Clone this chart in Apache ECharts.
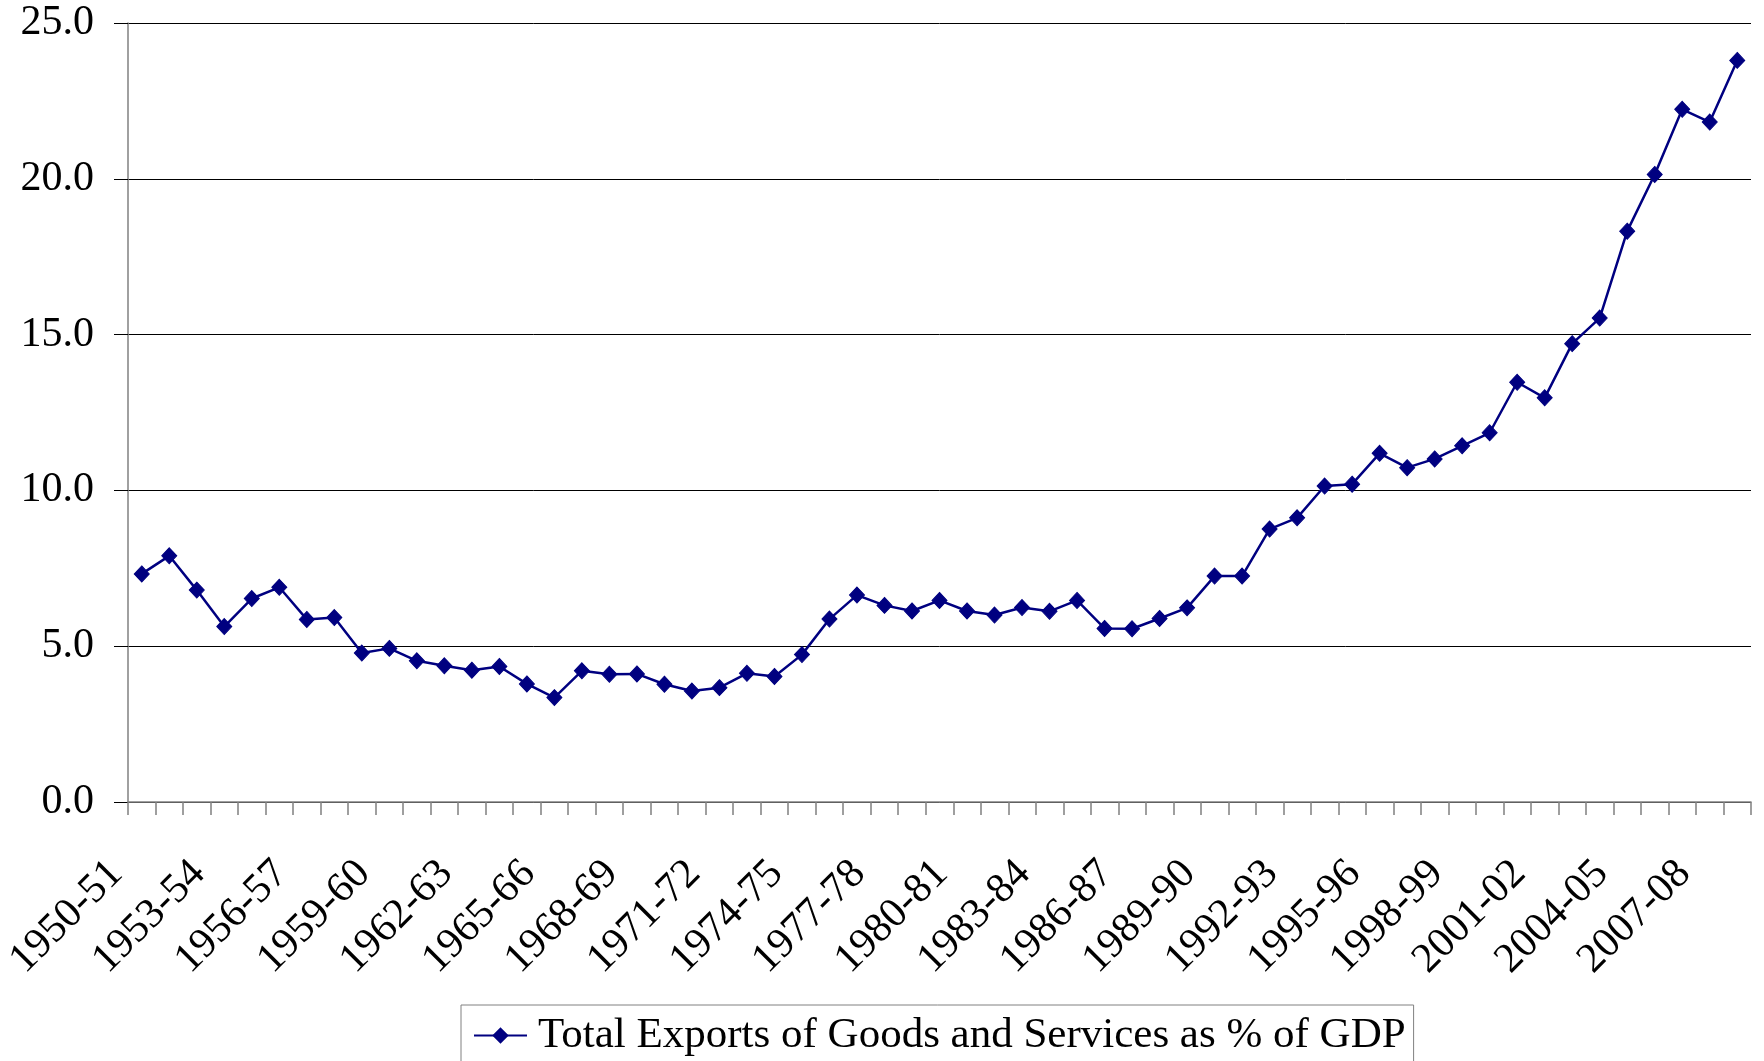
<!DOCTYPE html>
<html>
<head>
<meta charset="utf-8">
<script src="https://cdn.jsdelivr.net/npm/echarts@6/dist/echarts.min.js"></script>
<style>
html,body{margin:0;padding:0;background:#fff;}
#chart{width:1764px;height:1061px;}
</style>
</head>
<body>
<div id="chart"></div>
<script>
var categories = ["1950-51","1951-52","1952-53","1953-54","1954-55","1955-56","1956-57","1957-58","1958-59","1959-60",
"1960-61","1961-62","1962-63","1963-64","1964-65","1965-66","1966-67","1967-68","1968-69","1969-70",
"1970-71","1971-72","1972-73","1973-74","1974-75","1975-76","1976-77","1977-78","1978-79","1979-80",
"1980-81","1981-82","1982-83","1983-84","1984-85","1985-86","1986-87","1987-88","1988-89","1989-90",
"1990-91","1991-92","1992-93","1993-94","1994-95","1995-96","1996-97","1997-98","1998-99","1999-00",
"2000-01","2001-02","2002-03","2003-04","2004-05","2005-06","2006-07","2007-08","2008-09"];
var exportsPctGDP = [7.32,7.90,6.80,5.63,6.53,6.89,5.86,5.92,4.78,4.93,
4.53,4.37,4.23,4.35,3.79,3.35,4.21,4.10,4.11,3.78,
3.56,3.67,4.13,4.03,4.73,5.87,6.64,6.31,6.13,6.47,
6.13,6.00,6.24,6.12,6.47,5.57,5.56,5.89,6.23,7.25,
7.25,8.76,9.12,10.14,10.20,11.19,10.73,11.01,11.43,11.85,
13.47,12.97,14.71,15.53,18.32,20.14,22.23,21.82,23.80];
var seriesName = "Total Exports of Goods and Services as % of GDP";
var yTicks = {min: 0, max: 25, interval: 5};

var FONT = "'Liberation Serif','Times New Roman',serif";
var chart = echarts.init(document.getElementById('chart'), null, {renderer: 'canvas'});
chart.setOption({
  animation: false,
  backgroundColor: '#ffffff',
  grid: {left: 128, right: 13, top: 23, bottom: 259, containLabel: false},
  legend: {
    data: [seriesName],
    left: 461,
    top: 1005,
    padding: [9, 8, 40, 12],
    borderColor: '#808080',
    borderWidth: 1,
    itemWidth: 53,
    itemHeight: 17,
    textStyle: {fontFamily: FONT, fontSize: 43, color: '#000', padding: [0, 0, 0, 6]}
  },
  xAxis: {
    type: 'category',
    data: categories,
    boundaryGap: true,
    axisLine: {lineStyle: {color: '#808080', width: 1.5}},
    axisTick: {show: true, interval: 0, length: 13, lineStyle: {color: '#808080', width: 1.5}},
    axisLabel: {
      interval: 2,
      rotate: 45,
      margin: 40,
      padding: [0, 36, 0, 0],
      fontFamily: FONT,
      fontSize: 42,
      color: '#000'
    },
    splitLine: {show: false}
  },
  yAxis: {
    type: 'value',
    min: yTicks.min,
    max: yTicks.max,
    interval: yTicks.interval,
    axisLine: {show: true, lineStyle: {color: '#808080', width: 1.5}},
    axisTick: {show: true, length: 14, lineStyle: {color: '#000', width: 1}},
    axisLabel: {
      margin: 34,
      fontFamily: FONT,
      fontSize: 42,
      color: '#000',
      formatter: function (v) { return v.toFixed(1); }
    },
    splitLine: {show: true, lineStyle: {color: '#000', width: 1}}
  },
  series: [{
    name: seriesName,
    type: 'line',
    data: exportsPctGDP,
    symbol: 'diamond',
    symbolSize: [15, 16],
    showAllSymbol: true,
    lineStyle: {color: '#000080', width: 2.5},
    itemStyle: {color: '#000080', borderColor: '#000080', borderWidth: 1}
  }]
});
</script>
</body>
</html>
